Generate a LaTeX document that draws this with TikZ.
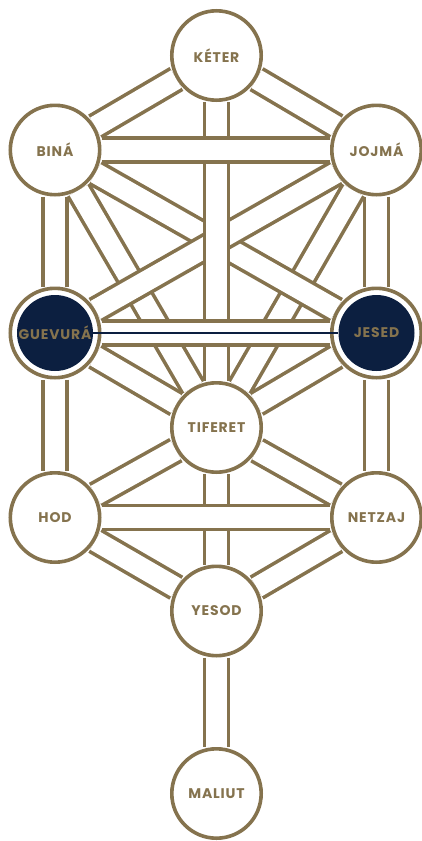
\documentclass[tikz,border=0pt]{standalone}
\usepackage{fontspec}
\setmainfont{Poppins}[LetterSpace=6]
\usetikzlibrary{backgrounds}

\definecolor{gold}{RGB}{133,115,78}
\definecolor{navy}{RGB}{12,31,64}

\tikzset{
  sefira/.style={circle, draw=gold, line width=3.6pt, fill=white,
    minimum size=89.4pt, inner sep=0pt, text=gold,
    font=\bfseries\fontsize{14}{16}\selectfont},
  darksefira/.style={sefira,
    path picture={\fill[navy] (path picture bounding box.center) circle (38pt);}},
  channel/.style={draw=gold, line width=3.6pt, double=white, double distance=20.4pt},
}

\begin{document}
\begin{tikzpicture}[x=1pt, y=-1pt]
    \useasboundingbox (0,0) rectangle (422,841);
    \node[sefira] (keter) at (216.5,55.5) {KÉTER};
    \node[sefira] (bina) at (55,150) {BINÁ};
    \node[sefira] (jojma) at (376.5,150) {JOJMÁ};
    \node[darksefira] (guevura) at (55,333) {GUEVURÁ};
    \node[darksefira] (jesed) at (376.5,333) {JESED};
    \node[sefira] (tiferet) at (216.5,427.5) {TIFERET};
    \node[sefira] (hod) at (55,517.5) {HOD};
    \node[sefira] (netzaj) at (376.5,517.5) {NETZAJ};
    \node[sefira] (yesod) at (216.5,611) {YESOD};
    \node[sefira] (maliut) at (216.5,793.5) {MALIUT};
    \begin{scope}[on background layer]
        % upper triangle and the crossing paths
        \draw[channel] (keter) -- (bina);
        \draw[channel] (keter) -- (jojma);
        \draw[channel] (bina) -- (tiferet);
        \draw[channel] (jojma) -- (tiferet);
        \draw[channel] (bina) -- (jesed);
        \draw[channel] (jojma) -- (guevura);
        \draw[channel] (keter) -- (tiferet);
        \draw[channel] (bina) -- (guevura);
        \draw[channel] (jojma) -- (jesed);
        \draw[channel] (guevura) -- (tiferet);
        \draw[channel] (jesed) -- (tiferet);
        \draw[channel] (bina) -- (jojma);
        \draw[channel] (guevura) -- (jesed);
        % lower part
        \draw[channel] (guevura) -- (hod);
        \draw[channel] (jesed) -- (netzaj);
        \draw[channel] (tiferet) -- (hod);
        \draw[channel] (tiferet) -- (netzaj);
        \draw[channel] (hod) -- (yesod);
        \draw[channel] (netzaj) -- (yesod);
        \draw[channel] (tiferet) -- (yesod);
        \draw[channel] (hod) -- (netzaj);
        \draw[channel] (yesod) -- (maliut);
    \end{scope}
    \draw[navy, line width=2pt, shorten <=-8.3pt, shorten >=-8.3pt] (guevura) -- (jesed);
\end{tikzpicture}
\end{document}
